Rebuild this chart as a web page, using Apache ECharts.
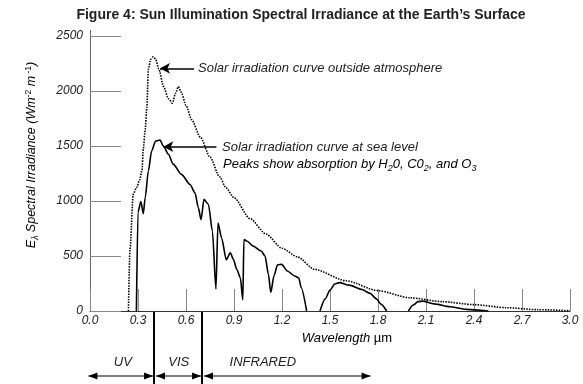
<!DOCTYPE html>
<html><head><meta charset="utf-8">
<script src="https://cdn.jsdelivr.net/npm/echarts@6/dist/echarts.min.js"></script>
<style>html,body{margin:0;padding:0;background:#fff}#c{width:583px;height:384px}</style>
</head><body><div id="c"></div>
<script>
// Wavelength (µm) vs spectral irradiance (W m-2 µm-1)
const outsideAtmosphere = [
  [0.24,0],[0.25,560],[0.27,1060],[0.29,1120],[0.31,1190],[0.325,1280],[0.333,1470],[0.345,1650],
  [0.355,1850],[0.365,2200],[0.38,2290],[0.395,2310],[0.41,2290],[0.43,2200],[0.46,2040],[0.49,1930],
  [0.515,1890],[0.535,1980],[0.552,2040],[0.57,1990],[0.60,1870],[0.635,1740],[0.69,1580],[0.75,1400],
  [0.81,1220],[0.85,1120],[0.90,1030],[1.0,840],[1.1,700],[1.2,570],[1.3,490],[1.4,380],[1.6,275],
  [1.8,185],[2.0,120],[2.2,85],[2.4,58],[2.6,30],[2.8,12],[3.0,3]
];
const seaLevelBand1 = [
  [0.29,0],[0.30,900],[0.318,995],[0.333,885],[0.345,1030],[0.365,1275],[0.385,1455],[0.41,1545],
  [0.4375,1555],[0.458,1500],[0.49,1425],[0.52,1335],[0.573,1240],[0.625,1150],[0.656,1075],[0.677,940],
  [0.694,830],[0.7125,1015],[0.74,970],[0.765,727],[0.787,200],[0.80,800],[0.823,660],[0.852,465],
  [0.877,530],[0.896,470],[0.917,380],[0.94,300],[0.955,100],[0.962,650],[0.98,636],[1.02,590],
  [1.07,545],[1.094,500],[1.115,333],[1.13,170],[1.15,320],[1.172,420],[1.198,424],[1.233,364],
  [1.28,318],[1.305,300],[1.32,212],[1.354,0]
];
const seaLevelBand2 = [
  [1.4375,0],[1.47,110],[1.50,190],[1.53,245],[1.56,258],[1.62,235],[1.70,195],[1.75,160],
  [1.79,110],[1.82,60],[1.854,0]
];
const seaLevelBand3 = [
  [1.99,0],[2.02,55],[2.05,85],[2.08,90],[2.15,65],[2.25,38],[2.35,15],[2.49,0]
];
const wavelengthTicks = [0,0.3,0.6,0.9,1.2,1.5,1.8,2.1,2.4,2.7,3.0];
const irradianceTicks = [0,500,1000,1500,2000,2500];
const bandNames = ['UV','VIS','INFRARED'];
const bandEdges = [-0.01,0.4,0.7,1.76];
const bandLabelAt = [0.205,0.555,1.08];
const titleText = 'Figure 4: Sun Illumination Spectral Irradiance at the Earth\u2019s Surface';

const FONT = '"Liberation Sans", Arial, sans-serif';
const INK = '#222';
const chart = echarts.init(document.getElementById('c'), null, {renderer:'canvas'});

const option = {
  animation:false,
  backgroundColor:'#fff',
  title:{text:titleText,left:296,top:3,textAlign:'center',
    textStyle:{fontFamily:FONT,fontSize:14,fontWeight:'bold',color:INK}},
  grid:{left:90,right:13,top:36,bottom:73,containLabel:false},
  xAxis:{type:'value',min:wavelengthTicks[0],max:wavelengthTicks[wavelengthTicks.length-1],
    interval:wavelengthTicks[1]-wavelengthTicks[0],
    axisLine:{show:true,lineStyle:{color:'#333',width:1}},
    axisTick:{show:true,inside:true,length:22,lineStyle:{color:'#888',width:1}},
    splitLine:{show:false},
    axisLabel:{margin:4,fontFamily:FONT,fontSize:12,fontStyle:'italic',color:INK,
      formatter:v=>(Math.round(v*10)/10).toFixed(1),showMaxLabel:true,showMinLabel:true}},
  yAxis:{type:'value',min:irradianceTicks[0],max:irradianceTicks[irradianceTicks.length-1],
    interval:irradianceTicks[1]-irradianceTicks[0],
    axisLine:{show:true,lineStyle:{color:'#666',width:1}},
    axisTick:{show:true,inside:true,length:31,lineStyle:{color:'#888',width:1}},
    splitLine:{show:false},
    axisLabel:{margin:7,fontFamily:FONT,fontSize:12,fontStyle:'italic',color:INK,
      formatter:v=>String(v)}},
  series:[
    {type:'line',data:outsideAtmosphere,showSymbol:false,smooth:0.25,smoothMonotone:'x',
      lineStyle:{color:'#000',width:1.6,type:[1.5,1.2]},silent:true},
    {type:'line',data:seaLevelBand1,showSymbol:false,smooth:0.25,smoothMonotone:'x',
      lineStyle:{color:'#000',width:1.6},silent:true,
      markLine:{silent:true,animation:false,symbolSize:[8,10],label:{show:false},
        lineStyle:{color:'#000',width:1.5,type:'solid'},emphasis:{disabled:true},
        data:[
          [{coord:[0.4375,2206],symbol:'arrow'},{coord:[0.65,2206],symbol:'none'}],
          [{coord:[0.458,1494],symbol:'arrow'},{coord:[0.79,1494],symbol:'none'}]
        ]}},
    {type:'line',data:seaLevelBand2,showSymbol:false,smooth:0.25,smoothMonotone:'x',
      lineStyle:{color:'#000',width:1.6},silent:true},
    {type:'line',data:seaLevelBand3,showSymbol:false,smooth:0.25,smoothMonotone:'x',
      lineStyle:{color:'#000',width:1.6},silent:true}
  ]
};
chart.setOption(option);

const px = v => chart.convertToPixel({xAxisIndex:0}, v);
const py = v => chart.convertToPixel({yAxisIndex:0}, v);
const baseY = py(0);
const g = [];
[bandEdges[1], bandEdges[2]].forEach(e=>{
  const x = Math.round(px(e));
  g.push({type:'line',shape:{x1:x,y1:baseY,x2:x,y2:384},style:{stroke:'#000',lineWidth:2},silent:true});
});
const arrowY = 376;
bandNames.forEach((n,i)=>{
  const x1 = px(bandEdges[i]) + (i>0?2:0), x2 = px(bandEdges[i+1]) - 1;
  g.push({type:'line',shape:{x1:x1,y1:arrowY,x2:x2,y2:arrowY},style:{stroke:'#000',lineWidth:1.2},silent:true});
  g.push({type:'polygon',shape:{points:[[x1,arrowY],[x1+9,arrowY-3.5],[x1+9,arrowY+3.5]]},style:{fill:'#000'},silent:true});
  g.push({type:'polygon',shape:{points:[[x2,arrowY],[x2-9,arrowY-3.5],[x2-9,arrowY+3.5]]},style:{fill:'#000'},silent:true});
  g.push({type:'text',x:px(bandLabelAt[i]),y:362,style:{text:n,font:'italic 13px '+FONT,fill:INK,align:'center',verticalAlign:'middle'},silent:true});
});
g.push({type:'text',x:198,y:68,style:{text:'Solar irradiation curve outside atmosphere',font:'italic 13px '+FONT,fill:INK,align:'left',verticalAlign:'middle'},silent:true});
g.push({type:'text',x:222,y:147,style:{text:'Solar irradiation curve at sea level',font:'italic 13px '+FONT,fill:INK,align:'left',verticalAlign:'middle'},silent:true});
g.push({type:'text',x:223,y:164,style:{
  text:'{a|Peaks show absorption by H}{s|2}{a|0, C0}{s|2}{a|, and O}{s|3}',
  align:'left',verticalAlign:'middle',
  rich:{a:{fontFamily:FONT,fontStyle:'italic',fontSize:13,lineHeight:17,color:INK},
        s:{fontFamily:FONT,fontStyle:'italic',fontSize:9,lineHeight:10,verticalAlign:'bottom',color:INK}}},silent:true});
g.push({type:'text',x:347,y:338,style:{
  text:'{a|Wavelength }{b|\u00b5m}',align:'center',verticalAlign:'middle',
  rich:{a:{fontFamily:FONT,fontStyle:'italic',fontSize:13,color:INK},b:{fontFamily:FONT,fontSize:13,color:INK}}},silent:true});
g.push({type:'text',x:32,y:155,rotation:Math.PI/2,style:{
  text:'{a|E}{s|\u03bb}{a| Spectral Irradiance (Wm}{p|-2}{a| m}{p| -1}{a|)}',align:'center',verticalAlign:'middle',
  rich:{a:{fontFamily:FONT,fontStyle:'italic',fontSize:12.5,lineHeight:16,color:INK},
        s:{fontFamily:FONT,fontStyle:'italic',fontSize:8.5,lineHeight:9,verticalAlign:'bottom',color:INK},
        p:{fontFamily:FONT,fontSize:8.5,lineHeight:9,verticalAlign:'top',color:INK}}},silent:true});
g.push({type:'line',shape:{x1:px(0)+0.5,y1:30,x2:px(0)+0.5,y2:py(2500)},style:{stroke:'#666',lineWidth:1},silent:true});
chart.setOption({graphic:g});
</script></body></html>
